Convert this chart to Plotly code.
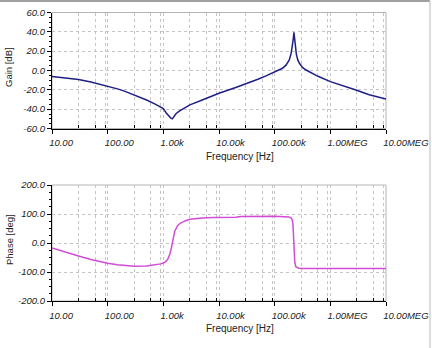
import plotly.graph_objects as go

# Bode plot: gain and phase of a notch / resonance network
gain_freq = [10, 15, 20, 30, 50, 70, 100, 150, 200, 300, 500, 700, 1000, 1140, 1250,
             1350, 1450, 1550, 1700, 2000, 2500, 3000, 5000, 8000, 10000, 20000, 35000,
             50000, 70000, 100000, 138000, 160000, 183000, 198000, 208000, 215000,
             222000, 228000, 235000, 245000, 260000, 278000, 320000, 366000, 600000,
             1000000, 2800000, 5000000, 10000000]
gain_db = [-6.3, -7.4, -8.2, -9.3, -11.8, -13.8, -16.2, -19.0, -21.3, -25.3, -30.5,
           -34.5, -39.3, -44.3, -47.0, -49.0, -50.0, -47.5, -44.5, -41.5, -38.0, -35.5,
           -30.5, -25.8, -23.5, -17.5, -12.6, -9.0, -5.5, -1.3, 2.3, 5.5, 11.0, 18.0,
           25.0, 32.0, 39.5, 31.0, 24.0, 17.0, 11.0, 7.5, 3.0, 0.5, -6.0,
           -11.5, -20.0, -25.0, -29.5]

phase_freq = [10, 15, 20, 30, 50, 70, 100, 150, 200, 300, 500, 700, 900, 1000, 1100,
              1200, 1300, 1400, 1500, 1600, 1800, 2000, 2500, 3000, 5000, 8000, 20000,
              25000, 100000, 180000, 195000, 205000, 213000, 218000, 222000, 226000,
              230000, 240000, 270000, 320000, 1000000, 10000000]
phase_deg = [-17, -28, -36, -45, -57, -64, -70, -75, -78, -80, -79, -76, -72, -69, -64,
             -56, -40, -15, 15, 40, 60, 68, 77, 82, 86, 88, 89,
             91, 92, 90, 87, 82, 65, 30, 0, -40,
             -67, -82, -87, -88, -88, -88]

freq_ticks = [10, 100, 1e3, 1e4, 1e5, 1e6, 1e7]
freq_labels = ["10.00", "100.00", "1.00k", "10.00k", "100.00k", "1.00MEG", "10.00MEG"]
freq_grid = [m * d for d in [10, 100, 1e3, 1e4, 1e5, 1e6] for m in (3, 6, 9)]
gain_ticks = [60, 40, 20, 0, -20, -40, -60]
gain_labels = ["60.0", "40.0", "20.0", "0.0", "-20.0", "-40.0", "-60.0"]
phase_ticks = [200, 100, 0, -100, -200]
phase_labels = ["200.0", "100.0", "0.0", "-100.0", "-200.0"]

W, H = 432, 348
FONT = "Liberation Sans, Arial, sans-serif"
GRID = "#c4c4c4"

fig = go.Figure()
fig.add_trace(go.Scatter(x=gain_freq, y=gain_db, mode="lines",
                         line=dict(color="#1f1f86", width=1.5),
                         xaxis="x", yaxis="y", showlegend=False))
fig.add_trace(go.Scatter(x=phase_freq, y=phase_deg, mode="lines",
                         line=dict(color="#d24bd6", width=1.5),
                         xaxis="x2", yaxis="y2", showlegend=False))

x_dom = [52 / W, 386 / W]
top_dom = [1 - 128.5 / H, 1 - 12.5 / H]
bot_dom = [1 - 301 / H, 1 - 185 / H]

tick_font = dict(family=FONT, size=9.5, color="#222222", style="italic")


def xaxis_cfg(anchor):
    return dict(type="log", range=[1, 7], domain=x_dom, anchor=anchor,
                automargin=False, tickangle=0,
                tickmode="array", tickvals=freq_ticks, ticktext=freq_labels,
                ticks="outside", ticklen=4, tickcolor="#000000", tickwidth=1,
                ticklabelposition="outside right", ticklabelshift=-4,
                ticklabelstandoff=5,
                tickfont=tick_font,
                showline=True, linecolor="#000000", linewidth=1.3,
                showgrid=True, gridcolor=GRID, griddash="3px,3px", gridwidth=1,
                minor=dict(tickmode="array", tickvals=freq_grid, ticks="inside",
                           ticklen=3, tickcolor="#000000", showgrid=True,
                           gridcolor=GRID, griddash="3px,3px", gridwidth=1),
                zeroline=False, fixedrange=True)


def yaxis_cfg(anchor, dom, rng, vals, labels, minor_step):
    return dict(range=rng, domain=dom, anchor=anchor,
                automargin=False,
                tickmode="array", tickvals=vals, ticktext=labels,
                ticks="outside", ticklen=4, tickcolor="#000000", tickwidth=1,
                ticklabelstandoff=0,
                tickfont=tick_font,
                showline=True, linecolor="#000000", linewidth=1.3,
                showgrid=True, gridcolor=GRID, griddash="3px,3px", gridwidth=1,
                minor=dict(dtick=minor_step, tick0=0, ticks="outside", ticklen=2,
                           tickcolor="#000000", showgrid=False),
                zeroline=False, fixedrange=True)


fig.update_layout(
    width=W, height=H,
    margin=dict(l=0, r=0, t=0, b=0, autoexpand=False),
    paper_bgcolor="white", plot_bgcolor="white",
    font=dict(family=FONT, color="#222222"),
    xaxis=xaxis_cfg("y"),
    yaxis=yaxis_cfg("x", top_dom, [-60, 60], gain_ticks, gain_labels, 5),
    xaxis2=xaxis_cfg("y2"),
    yaxis2=yaxis_cfg("x2", bot_dom, [-200, 200], phase_ticks, phase_labels, 25),
)

# light frame on the top and right of each plotting area
for xr, yr in (("x domain", "y domain"), ("x2 domain", "y2 domain")):
    fig.add_shape(type="rect", xref=xr, yref=yr, x0=0, x1=1, y0=0, y1=1,
                  line=dict(color="#b4b4b4", width=1), layer="below")

# window border
fig.add_shape(type="line", xref="paper", yref="paper", x0=0, x1=430 / W,
              y0=1 - 1 / H, y1=1 - 1 / H, line=dict(color="#a0a0a0", width=2))
fig.add_shape(type="line", xref="paper", yref="paper", x0=430 / W, x1=430 / W,
              y0=0, y1=1 - 1 / H, line=dict(color="#d0d0d0", width=1.5))

title_font = dict(family=FONT, size=10, color="#222222")
for text, y in (("Frequency [Hz]", 157), ("Frequency [Hz]", 328)):
    fig.add_annotation(text=text, xref="paper", yref="paper", x=240 / W, y=1 - y / H,
                       xanchor="center", yanchor="middle", showarrow=False,
                       font=title_font)
for text, y in (("Gain [dB]", 67), ("Phase [deg]", 240)):
    fig.add_annotation(text=text, xref="paper", yref="paper", x=9 / W, y=1 - y / H,
                       xanchor="center", yanchor="middle", showarrow=False,
                       textangle=-90, font=dict(family=FONT, size=9.5, color="#222222"))

fig.write_html("out.html")
